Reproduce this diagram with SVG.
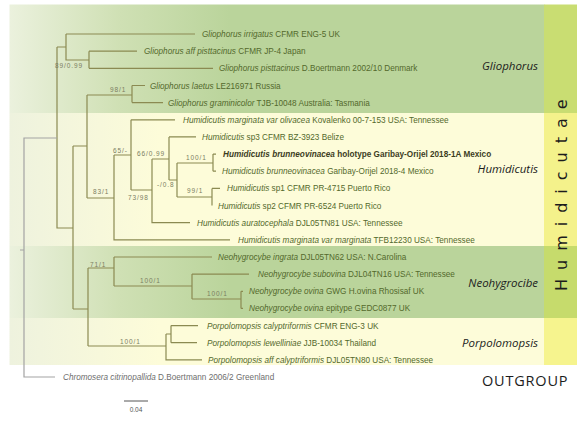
<svg xmlns="http://www.w3.org/2000/svg" width="588" height="425" viewBox="0 0 588 425">
<defs>
<linearGradient id="gG" gradientUnits="userSpaceOnUse" x1="10" y1="0" x2="230" y2="0">
<stop offset="0" stop-color="#ebf1dd"/><stop offset="0.5" stop-color="#cfe0b4"/><stop offset="1" stop-color="#bad49b"/>
</linearGradient>
<linearGradient id="gY" gradientUnits="userSpaceOnUse" x1="10" y1="0" x2="160" y2="0">
<stop offset="0" stop-color="#eef2de"/><stop offset="1" stop-color="#fdfcd9"/>
</linearGradient>
<style>
.t{font-family:"Liberation Sans",Arial,sans-serif;font-size:8.2px;fill:#53692c}
.i{font-style:italic}
.b{font-weight:bold;fill:#3c3d1e}
.g{fill:#6e6e6e}
.s{font-family:"Liberation Sans",Arial,sans-serif;font-size:6.5px;fill:#7b7d62;letter-spacing:0.9px}
.c{font-family:"Open Sans",sans-serif;font-style:italic;font-size:11.5px;fill:#1c1c1c;text-anchor:end}
.br{fill:none;stroke:#8b8a52;stroke-width:1.2}
.og{fill:none;stroke:#a3a3a3;stroke-width:1.2}
</style>
</defs>
<rect width="588" height="425" fill="#ffffff"/>
<g id="bands">
<rect x="9.5" y="4.5" width="535" height="108.5" fill="url(#gG)"/>
<rect x="9.5" y="113" width="535" height="133" fill="url(#gY)"/>
<rect x="9.5" y="246" width="535" height="72" fill="url(#gG)"/>
<rect x="9.5" y="318" width="535" height="47" fill="url(#gY)"/>
<rect x="544" y="4.5" width="33" height="108.5" fill="#c9dd72"/>
<rect x="544" y="113" width="33" height="133" fill="#f4f28b"/>
<rect x="544" y="246" width="33" height="72" fill="#c6db6c"/>
<rect x="544" y="318" width="33" height="47" fill="#f6f48e"/>
</g>
<g id="connectors">
<path class="br" d="M66,34H195 M66,34V60H89 M89,51.2V68.3 M89,51.2H137 M89,68.3H213 M57,47H66 M57,47V228H73 M73,146V309 M73,146H87 M87,95V198 M87,95H132 M132,85.5V102.6 M132,85.5H145 M132,102.6H163 M87,198H114 M114,155V239.8H230 M114,155H131 M131,119.8V190 M131,119.8H175 M131,190H152 M152,159V222.7H190 M152,159H169 M169,136.9V180 M169,136.9H196 M169,180H177 M177,163V197 M177,163H213 M213,154.1V171.2 M213,154.1H216 M213,171.2H216 M177,197H212 M212,188.4V205.5 M212,188.4H220 M73,309H88 M88,268V346 M88,268H114 M114,257V286 M114,257H212 M114,286H192 M192,274.1V299 M192,274.1H249 M192,299H241 M241,291.3V308.4 M241,291.3H243 M241,308.4H243 M88,346H166 M166,334V359.9H202 M166,334H171 M171,325.6V342.7 M171,325.6H198 M171,342.7H197"/>
<path class="og" d="M57,138H24V377H55 M20,250H24"/>
</g>
<g id="support">
<text class="s" x="55" y="67.5">89/0.99</text>
<text class="s" x="110" y="92">98/1</text>
<text class="s" x="93" y="193.5">83/1</text>
<text class="s" x="113" y="152.5">65/-</text>
<text class="s" x="137" y="155.5">66/0.99</text>
<text class="s" x="128" y="200">73/98</text>
<text class="s" x="157" y="187">-/0.8</text>
<text class="s" x="186" y="159.5">100/1</text>
<text class="s" x="187" y="193">99/1</text>
<text class="s" x="90" y="267">71/1</text>
<text class="s" x="140" y="283">100/1</text>
<text class="s" x="207" y="296">100/1</text>
<text class="s" x="120" y="344">100/1</text>
</g>
<g id="taxa">
<g id="t01"><text class="t" x="202" y="37"><tspan class="i">Gliophorus irrigatus</tspan> CFMR ENG-5 UK</text></g>
<g id="t02"><text class="t" x="144" y="54.2"><tspan class="i">Gliophorus aff pisttacinus</tspan> CFMR JP-4 Japan</text></g>
<g id="t03"><text class="t" x="219" y="71.3"><tspan class="i">Gliophorus pisttacinus</tspan> D.Boertmann 2002/10 Denmark</text></g>
<g id="t04"><text class="t" x="150" y="88.5"><tspan class="i">Gliophorus laetus</tspan> LE216971 Russia</text></g>
<g id="t05"><text class="t" x="168" y="105.6"><tspan class="i">Gliophorus graminicolor</tspan> TJB-10048 Australia: Tasmania</text></g>
<g id="t06"><text class="t" x="183" y="122.8"><tspan class="i">Humidicutis marginata var olivacea</tspan> Kovalenko 00-7-153 USA: Tennessee</text></g>
<g id="t07"><text class="t" x="202" y="139.9"><tspan class="i">Humidicutis</tspan> sp3 CFMR BZ-3923 Belize</text></g>
<g id="t08"><text class="t b" x="223" y="157.1"><tspan class="i">Humidicutis brunneovinacea</tspan> holotype Garibay-Orijel 2018-1A Mexico</text></g>
<g id="t09"><text class="t" x="222" y="174.2"><tspan class="i">Humidicutis brunneovinacea</tspan> Garibay-Orijel 2018-4 Mexico</text></g>
<g id="t10"><text class="t" x="227" y="191.4"><tspan class="i">Humidicutis</tspan> sp1 CFMR PR-4715 Puerto Rico</text></g>
<g id="t11"><text class="t" x="218" y="208.5"><tspan class="i">Humidicutis</tspan> sp2 CFMR PR-6524 Puerto Rico</text></g>
<g id="t12"><text class="t" x="197" y="225.7"><tspan class="i">Humidicutis auratocephala</tspan> DJL05TN81 USA: Tennessee</text></g>
<g id="t13"><text class="t" x="238" y="242.8"><tspan class="i">Humidicutis marginata var marginata</tspan> TFB12230 USA: Tennessee</text></g>
<g id="t14"><text class="t" x="218" y="260"><tspan class="i">Neohygrocybe ingrata</tspan> DJL05TN62 USA: N.Carolina</text></g>
<g id="t15"><text class="t" x="258" y="277.1"><tspan class="i">Neohygrocybe subovina</tspan> DJL04TN16 USA: Tennessee</text></g>
<g id="t16"><text class="t" x="249" y="294.3"><tspan class="i">Neohygrocybe ovina</tspan> GWG H.ovina Rhosisaf UK</text></g>
<g id="t17"><text class="t" x="249" y="311.4"><tspan class="i">Neohygrocybe ovina</tspan> epitype GEDC0877 UK</text></g>
<g id="t18"><text class="t" x="207" y="328.6"><tspan class="i">Porpolomopsis calyptriformis</tspan> CFMR ENG-3 UK</text></g>
<g id="t19"><text class="t" x="207" y="345.7"><tspan class="i">Porpolomopsis lewelliniae</tspan> JJB-10034 Thailand</text></g>
<g id="t20"><text class="t" x="208" y="362.9"><tspan class="i">Porpolomopsis aff calyptriformis</tspan> DJL05TN80 USA: Tennessee</text></g>
<g id="t21"><text class="t g" x="63" y="380"><tspan class="i">Chromosera citrinopallida</tspan> D.Boertmann 2006/2 Greenland</text></g>
</g>
<g id="clades">
<text class="c" x="538" y="70">Gliophorus</text>
<text class="c" x="538" y="173">Humidicutis</text>
<text class="c" x="538" y="287">Neohygrocibe</text>
<text class="c" x="538" y="347">Porpolomopsis</text>
<text x="482" y="386" font-family="'Open Sans',sans-serif" font-size="14.5" letter-spacing="0.8" fill="#1c1c1c">OUTGROUP</text>
<text transform="translate(567,291) rotate(-90)" x="0" y="0" font-family="'DejaVu Sans',sans-serif" font-size="16" letter-spacing="9" fill="#1c1c1c">Humidicutae</text>
</g>
<g id="scale">
<path d="M124,401H148" stroke="#555555" stroke-width="1" fill="none"/>
<text x="136" y="412" text-anchor="middle" font-family="'Liberation Sans',Arial,sans-serif" font-size="6.5" fill="#555555">0.04</text>
</g>
</svg>
